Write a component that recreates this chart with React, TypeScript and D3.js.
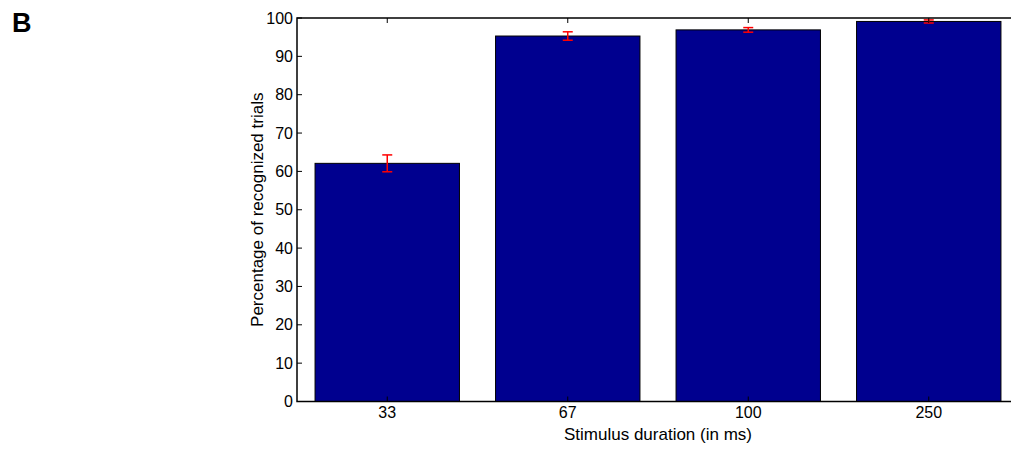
import React from "react";
import * as d3 from "d3";

const categories = ["33", "67", "100", "250"];
const values = [62.1, 95.3, 96.9, 99.1];
const errors = [2.2, 1.1, 0.6, 0.4];
const yTicks = [0, 10, 20, 30, 40, 50, 60, 70, 80, 90, 100];

export default function App() {
  const W = 1011, H = 450;
  const left = 297, right = 1019, top = 18, bottom = 401.5;
  const x = d3.scaleLinear().domain([0.5, 4.5]).range([left, right]);
  const y = d3.scaleLinear().domain([0, 100]).range([bottom, top]);
  const bw = (x(1.4) - x(0.6));
  const font = "Liberation Sans, Arial, Helvetica, sans-serif";
  const capW = 5;
  return (
    <svg width={W} height={H} style={{ position: "absolute", left: 0, top: 0 }} fontFamily={font}>
      <rect width={W} height={H} fill="#fff" />
      <text x={12} y={32} fontSize={27} fontWeight="bold">B</text>
      {values.map((v, i) => (
        <rect key={i} x={x(i + 1) - bw / 2} y={y(v)} width={bw} height={y(0) - y(v)}
          fill="#00008F" stroke="#000" strokeWidth={1} />
      ))}
      {values.map((v, i) => {
        const cx = x(i + 1);
        return (
          <g key={"e" + i} stroke="#ff0000" strokeWidth={1.5}>
            <line x1={cx} x2={cx} y1={y(v + errors[i])} y2={y(v - errors[i])} />
            <line x1={cx - capW} x2={cx + capW} y1={y(v + errors[i])} y2={y(v + errors[i])} />
            <line x1={cx - capW} x2={cx + capW} y1={y(v - errors[i])} y2={y(v - errors[i])} />
          </g>
        );
      })}
      <rect x={left} y={top} width={right - left} height={bottom - top} fill="none" stroke="#000" strokeWidth={1.5} />
      {yTicks.map((t) => (
        <g key={"y" + t}>
          <line x1={left} x2={left + 5} y1={y(t)} y2={y(t)} stroke="#000" />
          <line x1={right} x2={right - 5} y1={y(t)} y2={y(t)} stroke="#000" />
          <text x={left - 4} y={y(t)} dy="0.35em" fontSize={16} textAnchor="end">{t}</text>
        </g>
      ))}
      {categories.map((c, i) => (
        <g key={"x" + i}>
          <line x1={x(i + 1)} x2={x(i + 1)} y1={bottom} y2={bottom - 5} stroke="#000" />
          <line x1={x(i + 1)} x2={x(i + 1)} y1={top} y2={top + 5} stroke="#000" />
          <text x={x(i + 1)} y={418} fontSize={16} textAnchor="middle">{c}</text>
        </g>
      ))}
      <text x={(left + right) / 2} y={440} fontSize={17} textAnchor="middle">Stimulus duration (in ms)</text>
      <text transform={`translate(263,${(top + bottom) / 2}) rotate(-90)`} fontSize={17} textAnchor="middle">Percentage of recognized trials</text>
    </svg>
  );
}
